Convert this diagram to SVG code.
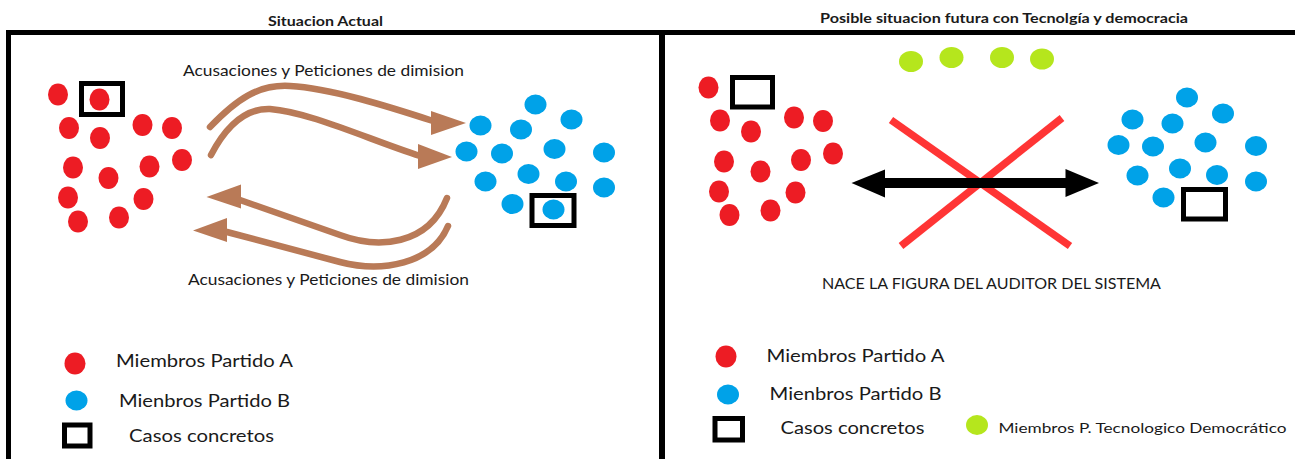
<svg xmlns="http://www.w3.org/2000/svg" width="1295" height="459" viewBox="0 0 1295 459">
<style>
text{font-family:Lato,"Liberation Sans",sans-serif;fill:#1a1a1a}
.t{font-weight:bold;font-size:13px}
.lbl{font-size:15px}
.leg{font-size:18px}
.ra{fill:#ED1C24}
.bb{fill:#00A2E8}
.gg{fill:#B5E61D}
.box{fill:none;stroke:#000;stroke-width:5}
.br{fill:none;stroke:#B97A57;stroke-width:6.5;stroke-linecap:round;stroke-linejoin:round}
.bh{fill:#B97A57}
.x{stroke:#FF3535;stroke-width:7.5;stroke-linecap:butt}
</style>
<rect width="1295" height="459" fill="#fff"/>
<g id="frame">
<path d="M8.5,462 V32.5 H1300" fill="none" stroke="#000" stroke-width="5"/>
<line x1="662" y1="32" x2="662" y2="462" stroke="#000" stroke-width="6"/>
</g>
<g id="titles">
<text class="t" x="268" y="25.5" textLength="115" lengthAdjust="spacingAndGlyphs">Situacion Actual</text>
<text class="t" x="820" y="22.5" textLength="368" lengthAdjust="spacingAndGlyphs">Posible situacion futura con Tecnolgía y democracia</text>
</g>
<g id="partyA-left">
<ellipse class="ra" cx="58" cy="94.5" rx="10" ry="11"/>
<ellipse class="ra" cx="99.5" cy="99.5" rx="10" ry="11"/>
<ellipse class="ra" cx="69" cy="128" rx="10" ry="11"/>
<ellipse class="ra" cx="100" cy="138" rx="10" ry="11"/>
<ellipse class="ra" cx="142.5" cy="125" rx="10" ry="11"/>
<ellipse class="ra" cx="172" cy="128" rx="10" ry="11"/>
<ellipse class="ra" cx="73" cy="167.5" rx="10" ry="11"/>
<ellipse class="ra" cx="108.5" cy="178" rx="10" ry="11"/>
<ellipse class="ra" cx="149.5" cy="166.5" rx="10" ry="11"/>
<ellipse class="ra" cx="182" cy="160" rx="10" ry="11"/>
<ellipse class="ra" cx="68" cy="197.5" rx="10" ry="11"/>
<ellipse class="ra" cx="143.5" cy="199" rx="10" ry="11"/>
<ellipse class="ra" cx="78" cy="221.5" rx="10" ry="11"/>
<ellipse class="ra" cx="119" cy="217.5" rx="10" ry="11"/>
<rect class="box" x="81.5" y="83.5" width="41" height="31"/>
</g>
<g id="partyB-left">
<ellipse class="bb" cx="535.5" cy="104.5" rx="11" ry="10"/>
<ellipse class="bb" cx="571.5" cy="119.5" rx="11" ry="10"/>
<ellipse class="bb" cx="480.5" cy="125.5" rx="11" ry="10"/>
<ellipse class="bb" cx="521" cy="129.5" rx="11" ry="10"/>
<ellipse class="bb" cx="466.5" cy="151.5" rx="11" ry="10"/>
<ellipse class="bb" cx="502" cy="153.5" rx="11" ry="10"/>
<ellipse class="bb" cx="554.5" cy="149" rx="11" ry="10"/>
<ellipse class="bb" cx="604" cy="152.5" rx="11" ry="10"/>
<ellipse class="bb" cx="485.5" cy="181.5" rx="11" ry="10"/>
<ellipse class="bb" cx="528.5" cy="174" rx="11" ry="10"/>
<ellipse class="bb" cx="566" cy="181.5" rx="11" ry="10"/>
<ellipse class="bb" cx="604" cy="187.5" rx="11" ry="10"/>
<ellipse class="bb" cx="512.5" cy="204" rx="11" ry="10"/>
<ellipse class="bb" cx="553.5" cy="209.5" rx="11" ry="10"/>
<rect class="box" x="532" y="195.5" width="42" height="30"/>
</g>
<g id="connectors">
<path class="br" d="M210,127 C236,100 258,84 290,86 C330,88 390,107 433,121"/>
<polygon class="bh" points="431,111 466,123 431,135"/>
<path class="br" d="M211,155 C222,134 240,108 270,109 C310,112 370,140 420,156"/>
<polygon class="bh" points="418,144 452,157 418,169"/>
<path class="br" d="M240,200 L340,235 C378,249 428,246 447,198"/>
<polygon class="bh" points="206.5,197 241,184.5 241,208.5"/>
<path class="br" d="M227,232 L340,262 C382,273 432,264 448,226"/>
<polygon class="bh" points="193,230.5 227,218 227,242"/>
<line class="x" x1="891" y1="120" x2="1070" y2="246"/>
<line class="x" x1="1062" y1="118" x2="901" y2="246"/>
<line x1="880" y1="183" x2="1068" y2="183" stroke="#000" stroke-width="10"/>
<polygon points="851.5,183 885,169.5 885,197.5" fill="#000"/>
<polygon points="1099,183 1065.5,169 1065.5,197" fill="#000"/>
</g>
<g id="labels-left">
<text class="lbl" x="183" y="76" textLength="281" lengthAdjust="spacingAndGlyphs">Acusaciones y Peticiones de dimision</text>
<text class="lbl" x="188" y="285" textLength="281" lengthAdjust="spacingAndGlyphs">Acusaciones y Peticiones de dimision</text>
</g>
<g id="legend-left">
<ellipse class="ra" cx="75" cy="363.5" rx="10.5" ry="11"/>
<text class="leg" x="116" y="367" textLength="177" lengthAdjust="spacingAndGlyphs">Miembros Partido A</text>
<ellipse class="bb" cx="76.5" cy="400.5" rx="11" ry="10"/>
<text class="leg" x="119" y="406.5" textLength="171" lengthAdjust="spacingAndGlyphs">Mienbros Partido B</text>
<rect class="box" x="64.5" y="425" width="25.5" height="21"/>
<text class="leg" x="129" y="442" textLength="145" lengthAdjust="spacingAndGlyphs">Casos concretos</text>
</g>
<g id="tech-members">
<ellipse class="gg" cx="911" cy="61.5" rx="12" ry="10.5"/>
<ellipse class="gg" cx="951.5" cy="57.5" rx="12" ry="10.5"/>
<ellipse class="gg" cx="1002" cy="57.5" rx="12" ry="10.5"/>
<ellipse class="gg" cx="1042" cy="59" rx="12" ry="10.5"/>
</g>
<g id="partyA-right">
<ellipse class="ra" cx="708.5" cy="87.5" rx="10" ry="11"/>
<ellipse class="ra" cx="720" cy="120.5" rx="10" ry="11"/>
<ellipse class="ra" cx="751" cy="131.5" rx="10" ry="11"/>
<ellipse class="ra" cx="794" cy="117.5" rx="10" ry="11"/>
<ellipse class="ra" cx="823" cy="121" rx="10" ry="11"/>
<ellipse class="ra" cx="724" cy="161.5" rx="10" ry="11"/>
<ellipse class="ra" cx="760.5" cy="171.5" rx="10" ry="11"/>
<ellipse class="ra" cx="801" cy="160" rx="10" ry="11"/>
<ellipse class="ra" cx="833" cy="153.5" rx="10" ry="11"/>
<ellipse class="ra" cx="719" cy="191.5" rx="10" ry="11"/>
<ellipse class="ra" cx="795.5" cy="192.5" rx="10" ry="11"/>
<ellipse class="ra" cx="729.5" cy="215" rx="10" ry="11"/>
<ellipse class="ra" cx="770.5" cy="210.5" rx="10" ry="11"/>
<rect class="box" x="732.5" y="77.5" width="40" height="29.5"/>
</g>
<g id="partyB-right">
<ellipse class="bb" cx="1187" cy="97.5" rx="11" ry="10"/>
<ellipse class="bb" cx="1223" cy="113.5" rx="11" ry="10"/>
<ellipse class="bb" cx="1132.5" cy="119.5" rx="11" ry="10"/>
<ellipse class="bb" cx="1172.5" cy="123.5" rx="11" ry="10"/>
<ellipse class="bb" cx="1118.5" cy="145" rx="11" ry="10"/>
<ellipse class="bb" cx="1153" cy="146.5" rx="11" ry="10"/>
<ellipse class="bb" cx="1205.5" cy="142.5" rx="11" ry="10"/>
<ellipse class="bb" cx="1256" cy="146" rx="11" ry="10"/>
<ellipse class="bb" cx="1137.5" cy="175.5" rx="11" ry="10"/>
<ellipse class="bb" cx="1180" cy="168.5" rx="11" ry="10"/>
<ellipse class="bb" cx="1217" cy="175" rx="11" ry="10"/>
<ellipse class="bb" cx="1256" cy="181.5" rx="11" ry="10"/>
<ellipse class="bb" cx="1163.5" cy="197.5" rx="11" ry="10"/>
<rect class="box" x="1183.5" y="189.5" width="42" height="29.5"/>
</g>
<g id="labels-right">
<text class="lbl" x="822" y="289" textLength="339" lengthAdjust="spacingAndGlyphs">NACE LA FIGURA DEL AUDITOR DEL SISTEMA</text>
</g>
<g id="legend-right">
<ellipse class="ra" cx="726" cy="356.5" rx="10.5" ry="11"/>
<text class="leg" x="766.5" y="361.5" textLength="178" lengthAdjust="spacingAndGlyphs">Miembros Partido A</text>
<ellipse class="bb" cx="728" cy="394.5" rx="11" ry="10"/>
<text class="leg" x="769.5" y="400" textLength="172" lengthAdjust="spacingAndGlyphs">Mienbros Partido B</text>
<rect class="box" x="715" y="418.5" width="27.5" height="21.5"/>
<text class="leg" x="780.5" y="434" textLength="144" lengthAdjust="spacingAndGlyphs">Casos concretos</text>
<ellipse class="gg" cx="977" cy="425" rx="11" ry="10"/>
<text x="998.5" y="433" style="font-size:14px" textLength="288" lengthAdjust="spacingAndGlyphs">Miembros P. Tecnologico Democrático</text>
</g>
</svg>
